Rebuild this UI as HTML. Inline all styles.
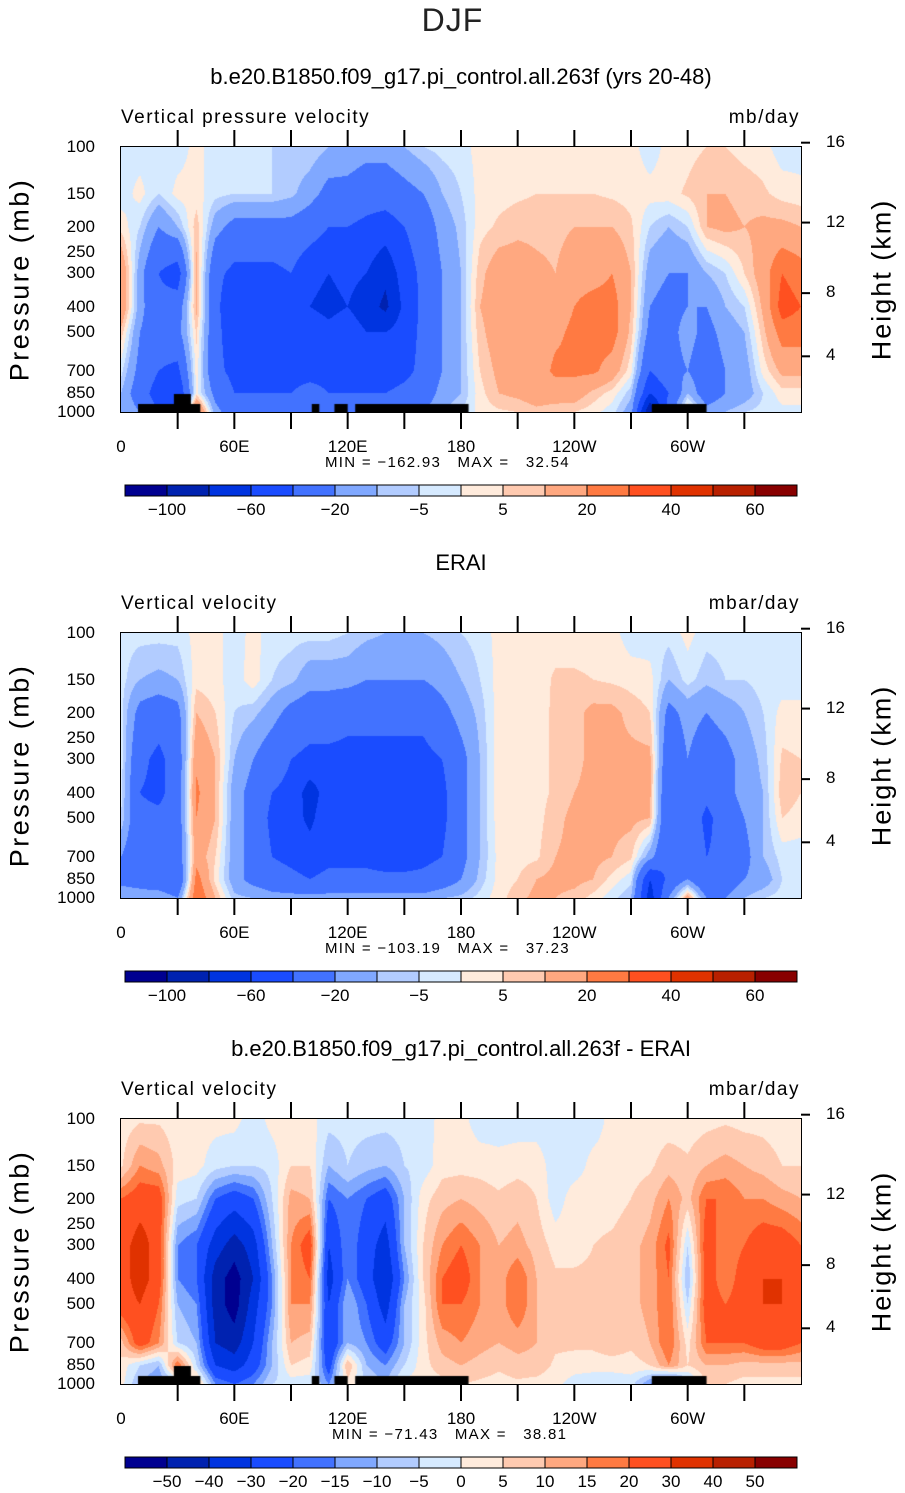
<!DOCTYPE html>
<html><head><meta charset="utf-8">
<style>
html,body{margin:0;padding:0;background:#fff;}
body{width:905px;height:1493px;position:relative;overflow:hidden;font-family:"Liberation Sans",sans-serif;color:#000;}
.t{position:absolute;white-space:pre;}
canvas{position:absolute;}
svg{position:absolute;left:0;top:0;}
</style></head>
<body>
<div class="t" style="left:0;width:905px;text-align:center;top:2px;font-size:32px;letter-spacing:1px;color:#222;">DJF</div>
<svg id="ov" width="905" height="1493"></svg>
<div id="root"></div>
<script>
// ---------- data ----------
const lons = [0,10,20,30,40,50,60,70,80,90,100,110,120,130,140,150,160,170,180,190,200,210,220,230,240,250,260,270,280,290,300,310,320,330,340,350,360];
const plevs = [100,150,200,300,400,500,700,850,1000];
const levels12 = [-100,-80,-60,-40,-20,-10,-5,0,5,10,20,30,40,50,60];
const levels3 = [-50,-40,-30,-20,-15,-10,-5,0,5,10,15,20,30,40,50];
const cbLabels12 = ["−100","","−60","","−20","","−5","","5","","20","","40","","60"];
const cbLabels3 = ["−50","−40","−30","−20","−15","−10","−5","0","5","10","15","20","30","40","50"];
const xTickLabels = ["0","60E","120E","180","120W","60W"];
const xTickLons = [0,60,120,180,240,300];
const yTickLabels = [100,150,200,250,300,400,500,700,850,1000];
const hTicks = [16,12,8,4];
const colors = ["#000090","#0022b0","#0034e0","#1a4cff","#4272ff","#80a8ff","#b2ccff","#d6eaff","#ffebdc","#ffcab0","#ffa880","#ff7a42","#ff5020","#e03200","#b82000","#880000"];
const land = [[9,42],[101,105],[113,120],[124,184],[281,310]];
const landBump = [28,37];
// columns: each entry = values at plevs (100..1000)
const field1 = [
[-3,-3,3,20,20,8,-3,-10,-10],[-3,2,-5,-15,-15,-20,-25,-30,-20],[-3,-5,-20,-40,-35,-30,-40,-50,-40],
[-3,2,-10,-50,-30,-25,-45,-60,-30],[2,2,8,12,12,6,3,2,30],[-3,-3,-15,-35,-35,-35,-35,-25,-15],
[-3,-5,-25,-45,-55,-50,-45,-40,-30],[-3,-5,-25,-45,-45,-45,-45,-40,-30],[-5,-5,-25,-45,-45,-45,-45,-40,-30],
[-5,-8,-25,-40,-40,-40,-45,-40,-30],[-5,-15,-30,-55,-60,-50,-45,-35,-20],[-10,-25,-40,-60,-65,-55,-45,-40,-30],
[-12,-25,-40,-55,-60,-50,-45,-40,-30],[-15,-30,-45,-60,-70,-60,-50,-40,-30],[-15,-30,-50,-75,-85,-60,-50,-40,-30],
[-10,-25,-40,-50,-55,-50,-45,-35,-25],[-5,-20,-30,-35,-35,-35,-35,-30,-20],[-3,-10,-15,-20,-20,-20,-20,-15,-10],
[-2,-5,-8,-10,-10,-10,-10,-10,-5],[2,2,3,8,10,8,5,3,2],[2,3,6,15,15,15,12,10,4],
[2,4,8,15,15,15,15,12,5],[2,5,8,12,15,15,15,15,8],[2,5,8,10,15,18,22,15,6],
[2,5,10,15,20,22,22,15,5],[2,5,10,15,25,25,22,8,2],[2,4,10,20,25,25,15,3,-3],
[2,3,6,10,10,8,2,-8,-15],[-3,2,-5,-15,-20,-25,-40,-60,-100],[2,3,-10,-20,-25,-25,-25,-40,-30],
[3,6,-5,-20,-20,-15,-20,-10,10],[5,10,10,-10,-20,-25,-30,-30,-15],[5,10,12,-5,-10,-15,-20,-20,-10],
[3,8,10,5,-5,-10,-15,-15,-5],[2,6,12,15,12,8,2,-5,-3],[-3,3,12,30,35,25,12,3,-2],[-3,2,10,25,30,25,12,3,-2]];
const field2 = [
[-3,-3,-3,-2,-3,-5,-20,-25,-10],[-3,-10,-25,-35,-40,-35,-35,-30,-10],[-3,-12,-30,-45,-45,-35,-35,-35,-10],
[-3,-10,-25,-30,-30,-30,-30,-40,-20],[2,3,10,18,22,20,15,25,30],[2,2,5,10,10,10,5,3,10],
[-3,-3,-5,-10,-15,-15,-15,-15,-8],[2,3,-8,-20,-25,-25,-25,-25,-10],[-3,-5,-15,-30,-40,-45,-40,-30,-15],
[-3,-8,-25,-40,-45,-50,-45,-35,-15],[-3,-15,-30,-45,-70,-65,-50,-40,-15],[-3,-15,-30,-45,-50,-45,-45,-35,-15],
[-5,-15,-35,-45,-50,-50,-45,-35,-15],[-8,-20,-35,-45,-45,-45,-45,-35,-15],[-10,-20,-35,-45,-50,-50,-50,-35,-15],
[-10,-20,-35,-45,-50,-50,-50,-35,-15],[-10,-20,-35,-45,-50,-50,-45,-35,-15],[-8,-15,-25,-40,-45,-45,-40,-30,-10],
[-5,-10,-15,-25,-25,-25,-25,-20,-8],[-3,-5,-8,-10,-10,-10,-10,-8,-3],[2,2,3,3,3,3,2,2,3],
[2,2,3,3,3,3,3,5,8],[2,2,3,3,3,3,4,10,12],[2,6,6,6,6,8,10,12,10],
[2,6,8,8,10,12,12,12,8],[2,5,12,12,12,12,12,10,3],[2,4,12,12,12,12,10,3,-3],
[-3,3,8,12,12,12,6,-3,-10],[-3,2,5,12,12,10,-15,-60,-70],[-3,-10,-25,-35,-40,-40,-40,-35,-20],
[2,-3,-15,-20,-20,-25,-20,-20,15],[-3,-8,-20,-30,-35,-45,-40,-40,-20],[-3,-5,-15,-25,-25,-30,-35,-30,-20],
[-3,-5,-10,-15,-15,-20,-25,-20,-10],[-3,-3,-5,-8,-10,-10,-10,-15,-5],[-3,-3,2,6,8,5,-3,-5,-3],[-3,-3,2,5,5,3,-3,-3,-3]];
const field3 = [
[2,4,20,25,25,25,8,3,2],[4,15,25,35,35,30,25,-5,-10],[4,12,25,25,25,20,15,-10,-15],
[2,3,-3,-15,-15,-10,-5,20,-10],[2,2,-5,-20,-20,-15,-10,-5,10],[2,-3,-20,-35,-45,-45,-40,-30,-15],
[2,-5,-25,-45,-55,-55,-45,-35,-20],[-3,-5,-20,-35,-40,-35,-30,-25,-15],[2,-3,-5,-10,-15,-15,-10,-10,-5],
[2,5,12,15,15,15,10,5,-3],[2,5,10,25,20,15,8,3,-3],[-3,-10,-20,-30,-35,-30,-30,-25,-15],
[-3,-5,-15,-15,-15,-10,-10,10,3],[-3,-8,-20,-25,-25,-20,-15,-10,-5],[-3,-10,-25,-35,-40,-35,-25,-15,-10],
[-3,-5,-10,-10,-15,-10,-10,-5,2],[-3,-3,3,5,5,3,3,3,2],[2,3,8,15,20,20,12,8,3],
[2,3,10,20,25,20,15,10,5],[-3,3,8,15,15,15,12,8,4],[-3,2,6,10,12,12,10,6,3],
[-3,3,8,12,20,20,12,8,4],[-3,3,5,8,10,10,10,8,3],[-3,-3,-3,3,6,6,6,4,2],
[-3,-3,3,3,6,6,6,3,-3],[-3,2,3,5,6,6,6,3,-5],[2,2,3,6,8,8,8,3,-5],
[2,3,5,8,8,8,6,3,-3],[2,4,8,12,12,12,10,5,-15],[2,8,15,22,20,20,20,15,-30],
[2,6,8,-5,-10,-5,3,5,-10],[3,10,20,25,25,25,20,10,5],[4,12,20,15,15,20,20,10,5],
[3,10,15,20,25,25,20,8,3],[3,8,15,25,30,30,25,8,3],[2,5,12,25,30,30,25,8,3],[2,5,10,20,25,25,20,8,3]];

// ---------- layout ----------
const X0=121, X1=801, PH=265;
const panels = [
 {top:147, field:field1, levels:levels12, cb:cbLabels12, title:"b.e20.B1850.f09_g17.pi_control.all.263f (yrs 20-48)", left:"Vertical pressure velocity", right:"mb/day", mm:"MIN = \u2212162.93   MAX =   32.54", mmx:325, land:true, name:"model"},
 {top:633, field:field2, levels:levels12, cb:cbLabels12, title:"ERAI", left:"Vertical velocity", right:"mbar/day", mm:"MIN = \u2212103.19   MAX =   37.23", mmx:325, land:false, name:"erai"},
 {top:1119, field:field3, levels:levels3, cb:cbLabels3, title:"b.e20.B1850.f09_g17.pi_control.all.263f - ERAI", left:"Vertical velocity", right:"mbar/day", mm:"MIN = \u221271.43   MAX =   38.81", mmx:332, land:true, name:"difference"}
];
const xOf = lon => X0 + (X1-X0)*lon/360;
const yOf = (p,top) => top + PH*(1-Math.log10(1000/p));
const root = document.getElementById('root');
const ov = document.getElementById('ov');
const NS = "http://www.w3.org/2000/svg";
function txt(parent, s, x, y, css, name){
  const d=document.createElement('div');
  d.className='t'; d.textContent=s;
  
  
  d.style.cssText='left:'+x+'px;top:'+y+'px;'+css;
  parent.appendChild(d); return d;
}
function line(x1,y1,x2,y2,w,name){
  const l=document.createElementNS(NS,'line');
  l.setAttribute('x1',x1);l.setAttribute('y1',y1);l.setAttribute('x2',x2);l.setAttribute('y2',y2);
  l.setAttribute('stroke','#000');l.setAttribute('stroke-width',w);
  
  
  ov.appendChild(l);
}
function valAt(field, lon, lp){
  let fi = lon/10; let i=Math.min(Math.floor(fi), lons.length-2); let tx=fi-i;
  let j=0; const lpl = plevs.map(p=>Math.log(p));
  while(j<plevs.length-2 && lp>lpl[j+1]) j++;
  let ty=(lp-lpl[j])/(lpl[j+1]-lpl[j]); ty=Math.max(0,Math.min(1,ty));
  const a=field[i][j], b=field[i+1][j], c=field[i][j+1], d=field[i+1][j+1];
  return (a*(1-tx)+b*tx)*(1-ty)+(c*(1-tx)+d*tx)*ty;
}
function colIdx(v, levels){ let k=0; while(k<levels.length && v>=levels[k]) k++; return k; }
const hToP = h => 1013.25*Math.pow(1-2.25577e-5*h*1000,5.25588);

panels.forEach((P,pi)=>{
  const top=P.top;
  txt(root,P.title,0,top-83,"width:922px;text-align:center;font-size:22px;",P.name+"-title");
  txt(root,P.left,X0,top-40,"font-size:19px;letter-spacing:1.5px;",P.name+"-variable-label");
  const u=txt(root,P.right,0,top-40,"font-size:19px;letter-spacing:1.5px;",P.name+"-units-label");
  u.style.left=''; u.style.right=(905-X1+1)+'px';
  const cv=document.createElement('canvas');
  cv.width=X1-X0; cv.height=PH;
  cv.style.left=X0+'px'; cv.style.top=top+'px';
  
  
  root.appendChild(cv);
  const ctx=cv.getContext('2d');
  for(let py=0;py<PH;py++){
    const p=1000/Math.pow(10,1-(py+0.5)/PH);
    const lp=Math.log(p);
    let prev=-1,start=0;
    for(let px=0;px<=cv.width;px++){
      let k=-2;
      if(px<cv.width){const lon=(px+0.5)/cv.width*360; k=colIdx(valAt(P.field,lon,lp),P.levels);}
      if(k!==prev){
        if(prev>=0){ctx.fillStyle=colors[prev];ctx.fillRect(start,py,px-start,1);}
        prev=k;start=px;
      }
    }
  }
  if(P.land){
    ctx.fillStyle='#000';
    land.forEach(r=>{const a=(r[0]/360)*cv.width,b=(r[1]/360)*cv.width;ctx.fillRect(a,PH-8,b-a,8);});
    const a=(landBump[0]/360)*cv.width,b=(landBump[1]/360)*cv.width;ctx.fillRect(a,PH-18,b-a,18);
  }
  const r=document.createElementNS(NS,'rect');
  r.setAttribute('x',X0);r.setAttribute('y',top);r.setAttribute('width',X1-X0);r.setAttribute('height',PH);
  r.setAttribute('fill','none');r.setAttribute('stroke','#000');r.setAttribute('stroke-width',2);
  
  
  ov.appendChild(r);
  for(let L=30;L<360;L+=30){
    line(xOf(L),top,xOf(L),top-17,2,P.name+'-top-tick');
    line(xOf(L),top+PH,xOf(L),top+PH+17,2,P.name+'-bottom-tick');
  }
  xTickLabels.forEach((s,i)=>{
    txt(root,s,xOf(xTickLons[i])-40,top+PH+25,"width:80px;text-align:center;font-size:17px;",P.name+'-x-tick-label');
  });
  txt(root,P.mm,P.mmx,top+PH+42,"font-size:15px;letter-spacing:1.3px;",P.name+'-min-max-label');
  yTickLabels.forEach(p=>{
    const y=yOf(p,top);
    line(X0,y,X0+7,y,2,P.name+'-y-tick');
    txt(root,String(p),0,y-10,"width:95px;text-align:right;font-size:17px;",P.name+'-y-tick-label');
  });
  txt(root,"Pressure (mb)",-90,top+PH/2-16,"width:220px;text-align:center;font-size:27px;letter-spacing:2.5px;transform:rotate(-90deg);",P.name+'-y-axis-title');
  hTicks.forEach(h=>{
    const y=yOf(hToP(h),top);
    line(X1,y,X1+9,y,2,P.name+'-height-tick');
    txt(root,String(h),826,y-11,"font-size:17px;",P.name+'-height-tick-label');
  });
  txt(root,"Height (km)",772,top+PH/2-16,"width:220px;text-align:center;font-size:27px;letter-spacing:2px;transform:rotate(-90deg);",P.name+'-height-axis-title');
  const cy=top+338, cx=125, cw=42;
  colors.forEach((c,i)=>{
    const b=document.createElementNS(NS,'rect');
    b.setAttribute('x',cx+i*cw);b.setAttribute('y',cy);b.setAttribute('width',cw);b.setAttribute('height',11);
    b.setAttribute('fill',c);b.setAttribute('stroke','#000');b.setAttribute('stroke-width',1);
    
    
    ov.appendChild(b);
  });
  P.cb.forEach((s,i)=>{
    if(!s) return;
    txt(root,s,cx+(i+1)*cw-30,cy+15,"width:60px;text-align:center;font-size:17px;",P.name+'-colorbar-label');
  });
});
</script>
</body></html>
